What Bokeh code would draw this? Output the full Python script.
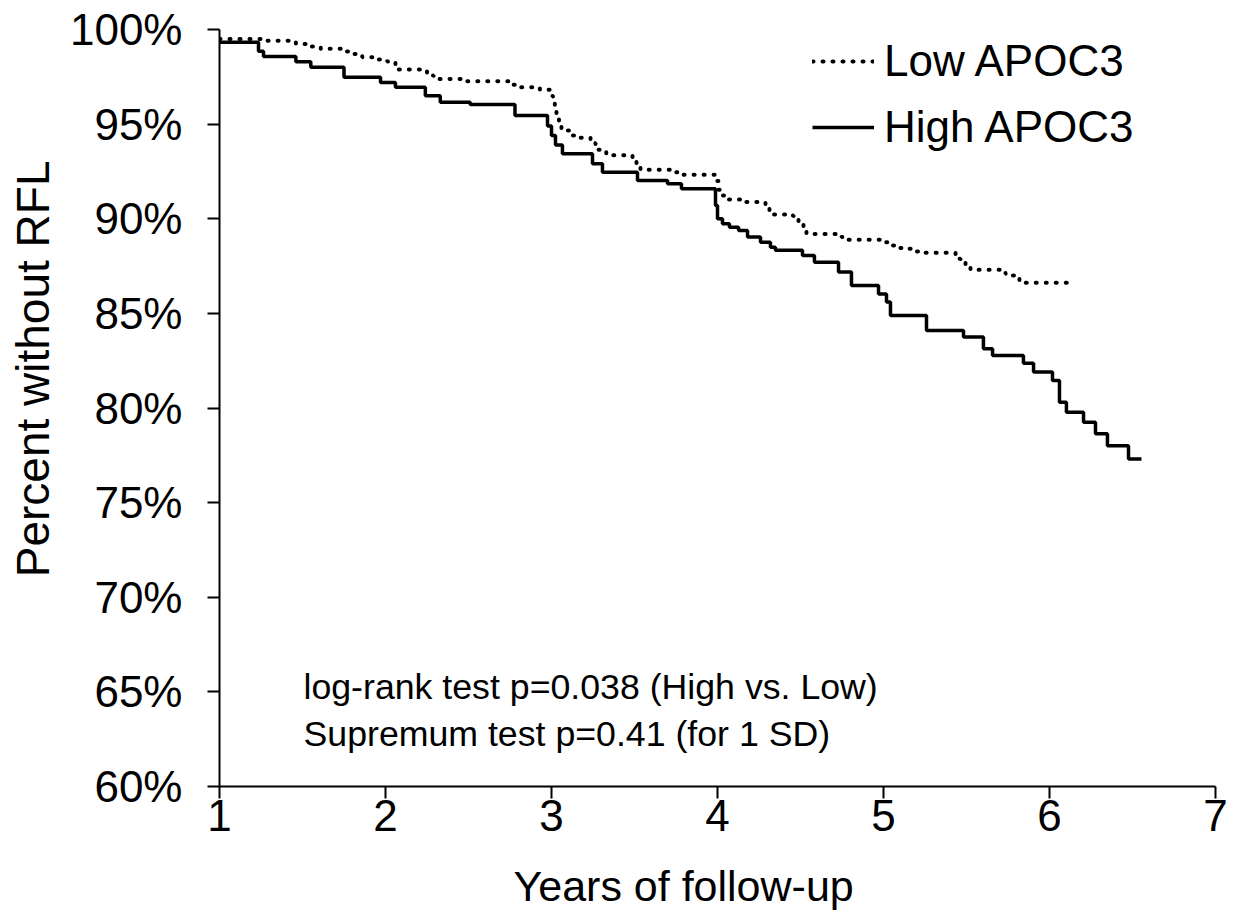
from bokeh.plotting import figure
from bokeh.models import Range1d, FixedTicker, Legend, LegendItem, Label, Title, LinearAxis
from bokeh.embed import file_html
from bokeh.resources import INLINE

# ---- data ----
low_t = [1.00, 1.28, 1.46, 1.52, 1.61, 1.76, 1.81, 1.86, 1.95, 2.01, 2.06, 2.25, 2.29,
         2.48, 2.74, 2.81, 2.93, 3.006, 3.012, 3.02, 3.03, 3.045, 3.06, 3.11, 3.163,
         3.235, 3.265, 3.33, 3.488, 3.512, 3.536, 3.747, 3.789, 3.994, 4.006, 4.03,
         4.06, 4.145, 4.289, 4.313, 4.416, 4.458, 4.488, 4.518, 4.536, 4.747, 4.783,
         5.006, 5.048, 5.09, 5.133, 5.181, 5.223, 5.434, 5.464, 5.494, 5.524, 5.735,
         5.777, 5.819, 5.855, 6.12]
low_s = [99.5, 99.4, 99.24, 99.1, 98.98, 98.84, 98.71, 98.54, 98.41, 98.31, 97.88, 97.57,
         97.39, 97.27, 97.08, 96.95, 96.81, 96.46, 96.1, 95.72, 95.4, 95.02, 94.66, 94.4,
         94.28, 94.0, 93.64, 93.36, 93.22, 92.81, 92.59, 92.46, 92.32, 91.99, 91.53,
         91.23, 91.02, 90.88, 90.53, 90.23, 90.17, 90.0, 89.8, 89.47, 89.2, 89.03, 88.89,
         88.76, 88.59, 88.45, 88.41, 88.27, 88.2, 87.88, 87.74, 87.44, 87.3, 87.09, 87.0,
         86.7, 86.62, 86.62]

high_t = [1.00, 1.235, 1.265, 1.46, 1.55, 1.75, 1.97, 2.06, 2.24, 2.33, 2.51, 2.78, 2.976,
          3.0, 3.024, 3.066, 3.247, 3.307, 3.518, 3.699, 3.783, 3.988, 4.0, 4.03, 4.072,
          4.127, 4.181, 4.259, 4.319, 4.349, 4.512, 4.584, 4.729, 4.807, 4.97, 5.018,
          5.042, 5.259, 5.482, 5.602, 5.657, 5.843, 5.904, 6.018, 6.06, 6.102, 6.205,
          6.277, 6.349, 6.476, 6.554]
high_s = [99.33, 98.85, 98.57, 98.3, 98.0, 97.48, 97.2, 96.95, 96.5, 96.16, 96.04, 95.45,
          94.9, 94.4, 93.9, 93.43, 92.9, 92.46, 92.02, 91.85, 91.58, 90.7, 90.0, 89.73,
          89.55, 89.38, 89.03, 88.76, 88.5, 88.33, 88.06, 87.7, 87.18, 86.47, 86.03, 85.6,
          84.89, 84.1, 83.75, 83.13, 82.78, 82.37, 81.9, 81.45, 80.3, 79.78, 79.25, 78.64,
          78.0, 77.3, 77.3]

x_ticks = [1, 2, 3, 4, 5, 6, 7]
y_ticks = [60, 65, 70, 75, 80, 85, 90, 95, 100]
y_tick_labels = ["60%", "65%", "70%", "75%", "80%", "85%", "90%", "95%", "100%"]
series_names = ["Low APOC3", "High APOC3"]
x_title = "Years of follow-up"
y_title = "Percent without RFL"
note_lines = ["log-rank test p=0.038 (High vs. Low)", "Supremum test p=0.41 (for 1 SD)"]

FONT = "Liberation Sans"

p = figure(width=1228, height=911, x_range=Range1d(1, 7), y_range=Range1d(60, 100),
           output_backend="svg", toolbar_location=None,
           min_border_left=219, min_border_right=13, min_border_top=29, min_border_bottom=125)
p.outline_line_color = None
p.grid.visible = False
p.background_fill_color = "white"
p.border_fill_color = "white"

for ax in (p.xaxis[0], p.yaxis[0]):
    ax.axis_line_color = "black"
    ax.axis_line_width = 2
    ax.major_tick_line_color = "black"
    ax.major_tick_line_width = 2
    ax.major_tick_in = 0
    ax.major_tick_out = 12
    ax.minor_tick_line_color = None
    ax.major_label_text_font = FONT
    ax.major_label_text_font_size = "44px"
    ax.major_label_text_color = "black"

p.xaxis.ticker = FixedTicker(ticks=x_ticks)
p.yaxis.ticker = FixedTicker(ticks=y_ticks)
p.yaxis.major_label_overrides = {t: l for t, l in zip(y_ticks, y_tick_labels)}
p.xaxis.major_label_standoff = 1
p.yaxis.major_label_standoff = 25

# blank spacer band below the x axis, then the axis titles (off-centre, as in the reference)
spacer = LinearAxis(ticker=FixedTicker(ticks=[x_ticks[0]]), axis_line_color=None,
                    major_tick_line_color="white", major_tick_line_width=1,
                    minor_tick_line_color=None, major_tick_in=0, major_tick_out=26,
                    major_label_standoff=0, major_label_overrides={x_ticks[0]: ""},
                    major_label_text_font_size="1px", major_label_text_color="white")
p.add_layout(spacer, "below")
p.add_layout(Title(text=x_title, align="left", offset=294, vertical_align="bottom",
                   standoff=0, text_font=FONT, text_font_size="43px",
                   text_font_style="normal", text_color="black"), "below")
p.add_layout(Title(text=y_title, align="right", offset=131, vertical_align="top",
                   standoff=11, text_font=FONT, text_font_size="46px",
                   text_font_style="normal", text_color="black"), "left")

r_low = p.step(low_t, low_s, mode="after", line_color="black", line_width=4,
               line_dash="1 9", line_cap="round")
r_high = p.step(high_t, high_s, mode="after", line_color="black", line_width=3.5)

legend = Legend(items=[LegendItem(label=series_names[0], renderers=[r_low]),
                       LegendItem(label=series_names[1], renderers=[r_high])],
                location=(593, 634), glyph_width=62, glyph_height=50, label_height=50,
                spacing=16, padding=10, label_standoff=10, margin=0,
                label_text_font=FONT, label_text_font_size="44px", label_text_color="black",
                border_line_color=None, background_fill_alpha=0)
p.add_layout(legend)

for i, txt in enumerate(note_lines):
    p.add_layout(Label(x=1.506, y=65.28 - 2.48 * i, text=txt, text_baseline="middle",
                       text_font=FONT, text_font_size="35.7px", text_color="black"))

open("out.html", "w").write(file_html(p, INLINE))
